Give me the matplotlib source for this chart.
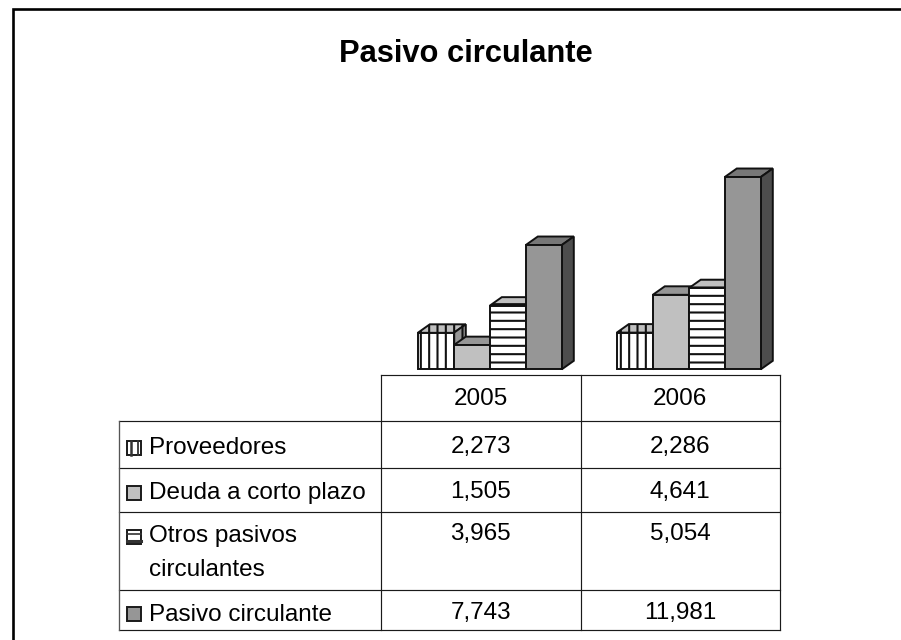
import matplotlib
matplotlib.use('Agg')
import matplotlib.pyplot as plt
from matplotlib.patches import Rectangle

# data
title = 'Pasivo circulante'
years = ['2005', '2006']
proveedores = [2273, 2286]
deuda = [1505, 4641]
otros = [3965, 5054]
pasivo = [7743, 11981]
series = [proveedores, deuda, otros, pasivo]

# front, top, side colours and hatch of every series
faces = [('white', '#c0c0c0', '#969696', '||'),
         ('#c0c0c0', '#969696', '#777777', None),
         ('white', '#c0c0c0', '#969696', '--'),
         ('#969696', '#777777', '#4d4d4d', None)]

W, H = 901, 640
plt.rcParams['font.family'] = ['Liberation Sans', 'DejaVu Sans']
plt.rcParams['hatch.linewidth'] = 1.5
fig = plt.figure(figsize=(W/100.0, H/100.0), dpi=100)

# page in pixels, for frame and table
page = fig.add_axes([0, 0, 1, 1])
page.set_xlim(0, W)
page.set_ylim(H, 0)
page.axis('off')

page.plot([12.5, 12.5, W], [H, 9, 9], color='black', lw=1.9, solid_joinstyle='miter')
page.text(465.5, 62, title, fontsize=22.2, fontweight='bold', ha='center', va='baseline')

# table
xl, x0, x1, x2 = 118.5, 381, 580.5, 779.5
rows = [375, 421, 467.5, 511.5, 589.5, 629.5]
line = dict(color='#1a1a1a', lw=0.85)
page.plot([x0, x2], [rows[0], rows[0]], **line)
for y in rows[1:]:
    page.plot([xl, x2], [y, y], **line)
page.plot([xl, xl], [rows[1], rows[-1]], color='#555555', lw=0.95)
for x in (x0, x1, x2):
    page.plot([x, x], [rows[0], rows[-1]], **line)

fs = 17.5
for i, yr in enumerate(years):
    cx = (x0 + x1)/2.0 if i == 0 else (x1 + x2)/2.0
    page.text(cx, 405, yr, fontsize=fs, ha='center', va='baseline')
    for vals, yb in zip(series, [452.7, 498, 540, 619.5]):
        page.text(cx, yb, format(vals[i], ','), fontsize=fs, ha='center', va='baseline')

labels = ['Proveedores', 'Deuda a corto plazo', 'Otros pasivos\ncirculantes', 'Pasivo circulante']
for lab, yb in zip(labels, [454.3, 499, 541.7, 620.7]):
    parts = lab.split('\n')
    page.text(149, yb, parts[0], fontsize=fs, va='baseline')
    if len(parts) > 1:
        page.text(149, yb + 34.5, parts[1], fontsize=fs, va='baseline')

# legend keys
keys = [441, 486, 530, 607]
for f, ky in zip(faces, keys):
    page.add_patch(Rectangle((127, ky), 13.5, 14, facecolor=f[0], edgecolor='#1a1a1a', lw=1.4))
page.plot([130.5, 130.5], [keys[0], keys[0]+14], color='#333333', lw=1.8)
page.plot([137.5, 137.5], [keys[0], keys[0]+14], color='#333333', lw=1.3)
page.plot([127, 140.5], [keys[2]+4, keys[2]+4], color='#333333', lw=1.2)
page.plot([127, 140.5], [keys[2]+10.5, keys[2]+10.5], color='#333333', lw=2.2)

# bars, y in data units, depth drawn by hand
base = 369.3
px_per_val = 0.01605
px_per_group = 199.0
ax = fig.add_axes([x0/W, (H-base)/H, (x2-x0)/W, 14000*px_per_val/H])
ax.patch.set_alpha(0)
ax.axis('off')
ax.set_xlim((x0-489.8)/px_per_group, (x2-489.8)/px_per_group)
ax.set_ylim(0, 14000)

bw = 36.0/px_per_group
dx = 12.0/px_per_group
dy = 8.5/px_per_val
edge = dict(edgecolor='#111111', linewidth=1.4, joinstyle='miter', clip_on=False)

for g in range(len(years)):
    for s, vals in enumerate(series):
        left = g + (s-2)*bw
        h = vals[g]
        front, top, side, hatch = faces[s]
        ax.fill([left, left+bw, left+bw+dx, left+dx], [h, h, h+dy, h+dy],
                facecolor=top, hatch=hatch, **edge)
        ax.fill([left+bw, left+bw+dx, left+bw+dx, left+bw], [0, dy, h+dy, h],
                facecolor=side, hatch=hatch, **edge)
        ax.bar(left, h, bw, align='edge', color=front, hatch=hatch, **edge)

fig.savefig('out.png', dpi=100)
